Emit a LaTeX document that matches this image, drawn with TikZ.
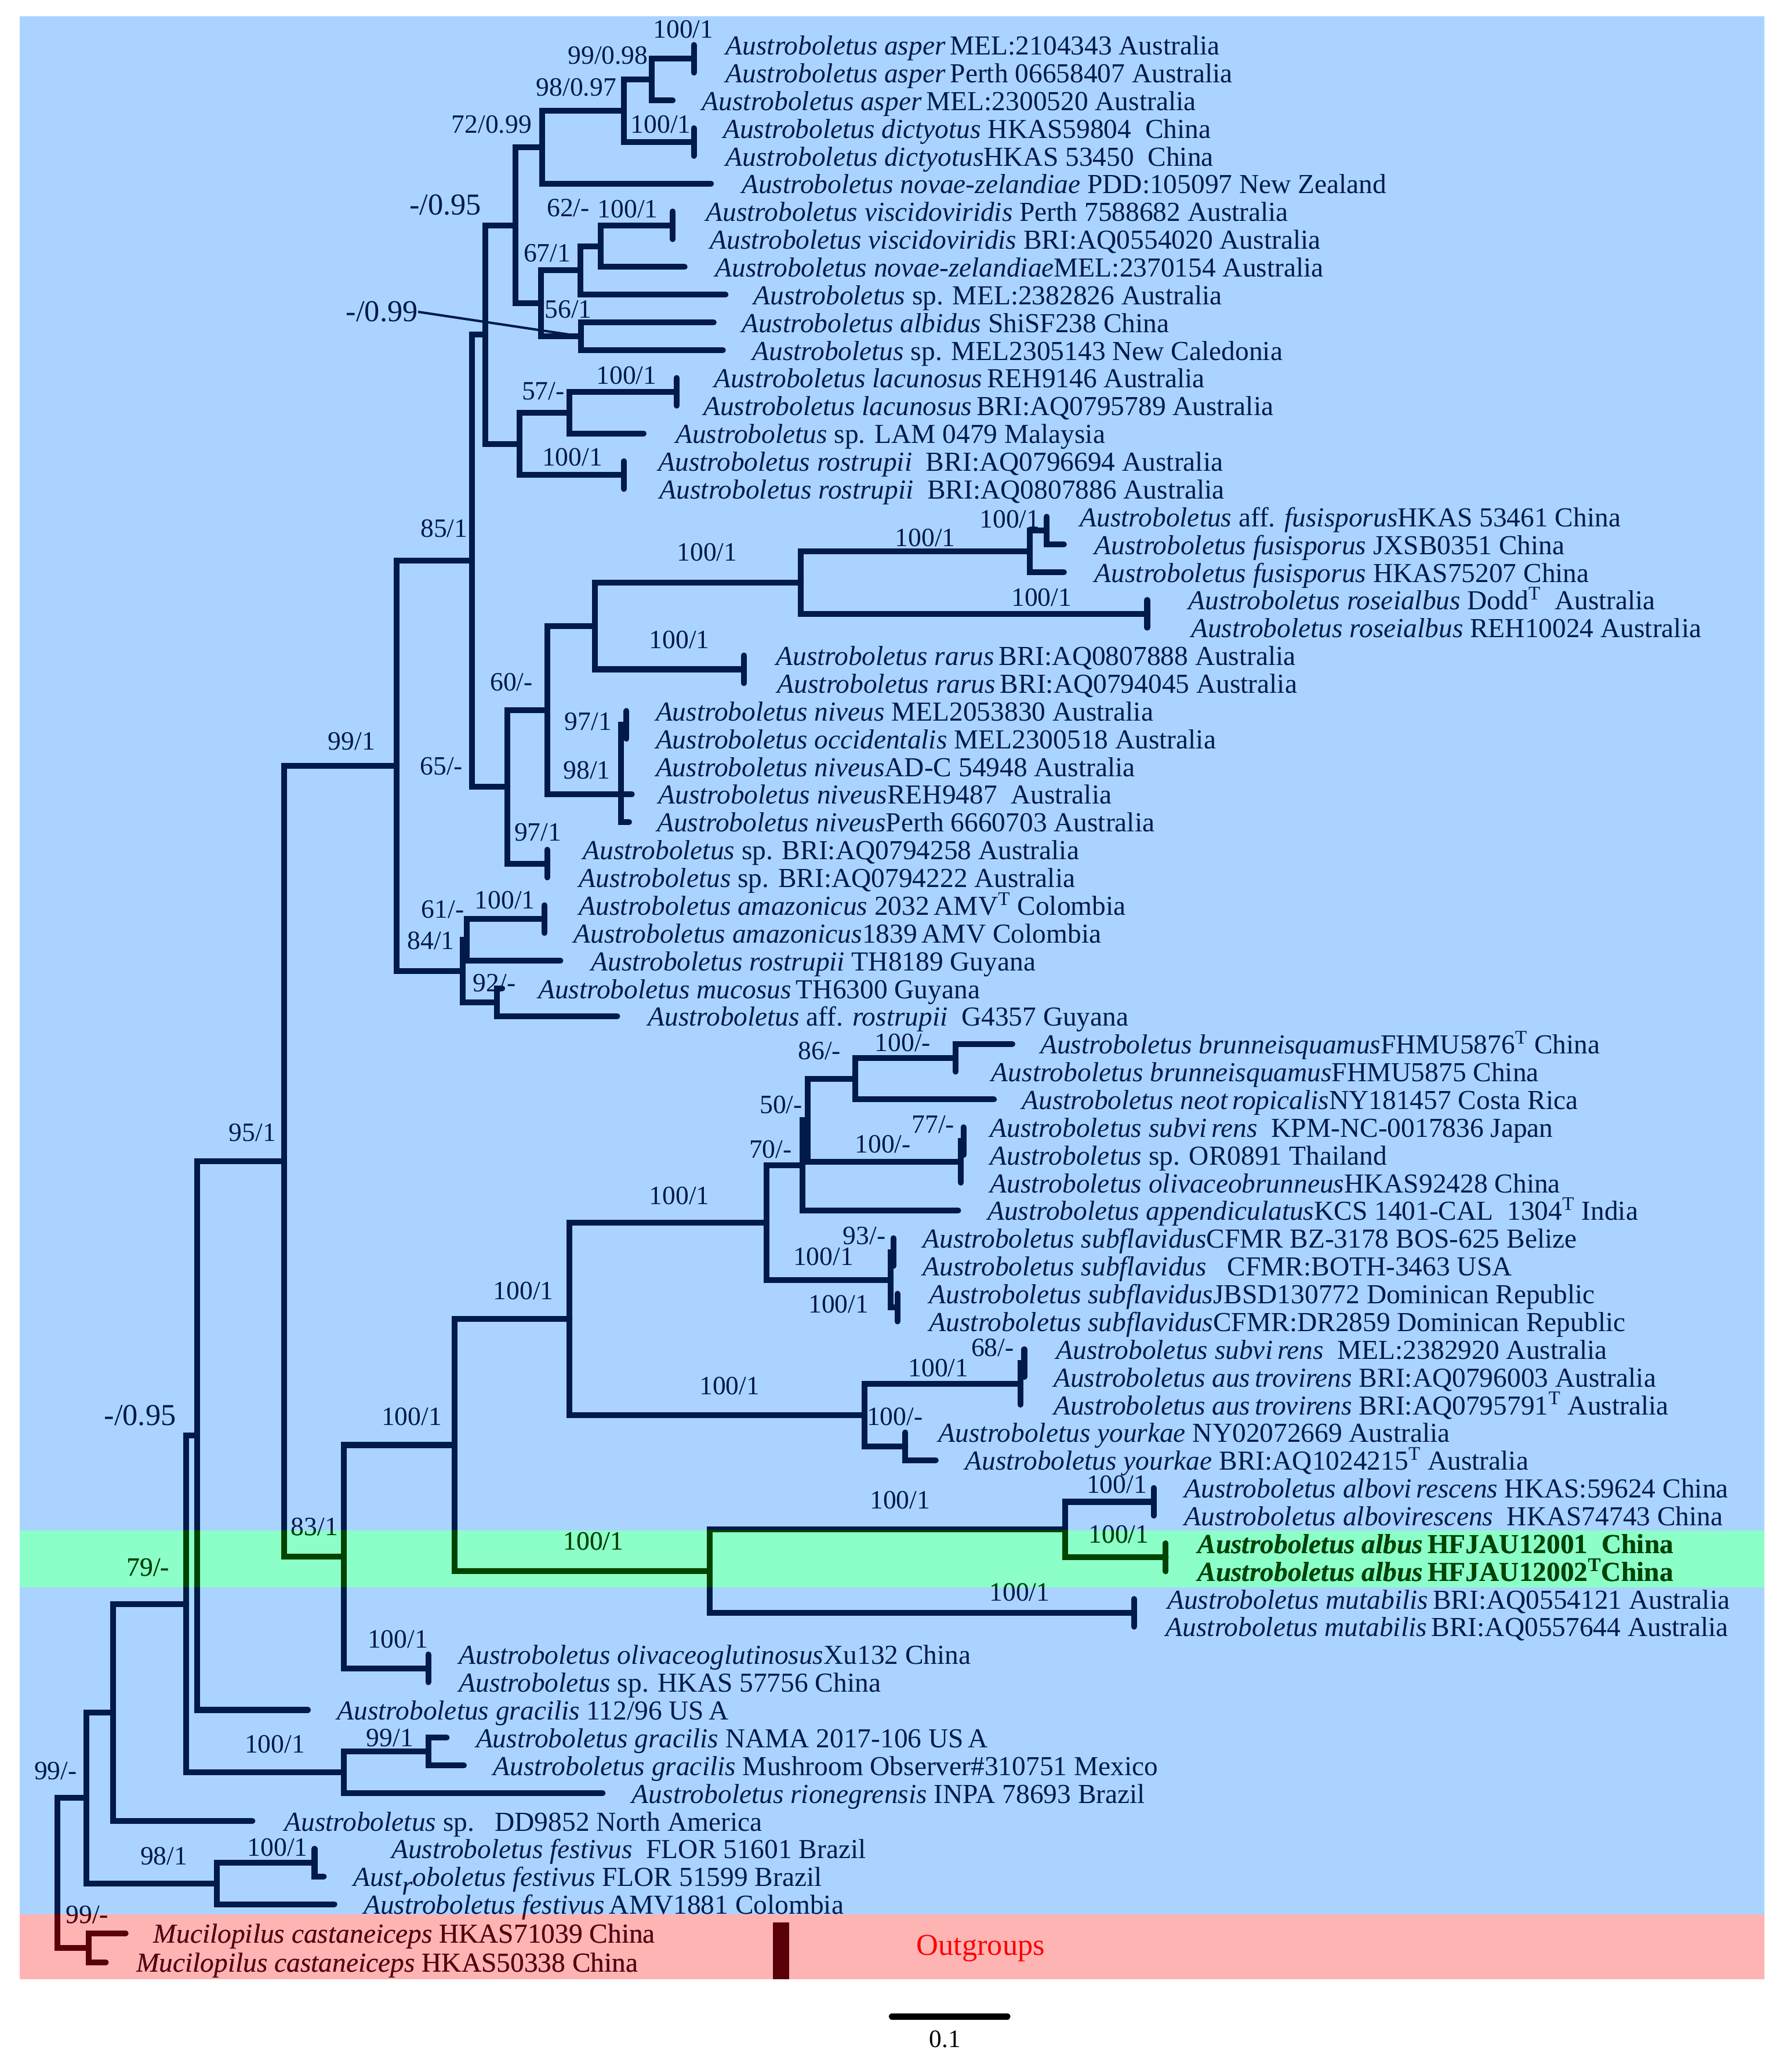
\documentclass[tikz,border=0pt]{standalone}
\usepackage{fontspec}
\setmainfont{Liberation Serif}
\usepackage{tikz}

\definecolor{fondbleu}{HTML}{AAD4FF}
\definecolor{fondvert}{HTML}{8CFFC8}
\definecolor{fondrose}{HTML}{FFB4B4}
\definecolor{traitbleu}{HTML}{001A4A}
\definecolor{traitvert}{HTML}{004400}
\definecolor{traitrouge}{HTML}{5A0008}
\colorlet{tc}{traitbleu}

% l'arbre complet (branches + textes), dessine avec la couleur tc
\newcommand{\arbre}{%
  % branches : parent/enfant
  \foreach \p/\c in {asp/l1, asp/l2, n9998/asp, n9998/l3, dic/l4, dic/l5,
      n9897/n9998, n9897/dic, n7299/n9897, n7299/l6, vis/l7, vis/l8,
      n62/vis, n62/l9, n67/n62, n67/l10, alb/l11, alb/l12, n56/n67, n56/alb,
      na/n7299, na/n56, lac/l13, lac/l14, n57/lac, n57/l15, ros/l16, ros/l17,
      nb/n57, nb/ros, n095/na, n095/nb,
      afu/l18, afu/l19, fus/afu, fus/l20, rse/l21, rse/l22, nc/fus, nc/rse,
      rar/l23, rar/l24, nd/nc, nd/rar, n97a/l25, n97a/l26, n98/n97a, n98/l27,
      niv/n98, niv/l28, niv/l29, n60/nd, n60/l28, n97b/l30, n97b/l31,
      n65/n60, n65/n97b, n85/n095, n85/n65, ama/l32, ama/l33, n61/ama, n61/l34,
      n92/l35, n92/l36, n84/n61, n84/n92, ne/n85, ne/n84,
      bru/l37, bru/l38, n86/bru, n86/l39, n77/l40, n77/l41, nsv/n77, nsv/l42,
      n50/n86, n50/nsv, n70/n50, n70/l43, n93/l44, n93/l45, sfb/l46, sfb/l47,
      sfl/n93, sfl/sfb, nf/n70, nf/sfl, n68/l48, n68/l49, aus/n68, aus/l50,
      you/l51, you/l52, ng/aus, ng/you, nh/nf, nh/ng,
      albo/l53, albo/l54, albu/l55, albu/l56, ni/albo, ni/albu, mut/l57, mut/l58,
      nj/ni, nj/mut, nk/nh, nk/nj, oli/l59, oli/l60, n83/nk, n83/oli,
      n99/ne, n99/n83, nm/n99, nm/l61, grp/l62, grp/l63, gra/grp, gra/l64,
      n79/nm, n79/gra, nn/n79, nn/l65, fes/l66, fes/l67, n98b/fes, n98b/l68,
      n99b/nn, n99b/n98b, out/l69, out/l70, root/n99b, root/out}
    \draw[br] (\p) |- (\c);
  % noms des specimens
  \node[leaf] (t1) at (549,41.5) {\textit{Austroboletus asper}\,MEL:2104343 Australia};
  \node[leaf] (t2) at (549,62.5) {\textit{Austroboletus asper}\,Perth 06658407 Australia};
  \node[leaf] (t3) at (531,83.5) {\textit{Austroboletus asper}\,MEL:2300520 Australia};
  \node[leaf] (t4) at (547,104.5) {\textit{Austroboletus dictyotus} HKAS59804\ \ China};
  \node[leaf] (t5) at (549,125.5) {\textit{Austroboletus dictyotus}HKAS 53450\ \ China};
  \node[leaf] (t6) at (561,146.5) {\textit{Austroboletus novae-zelandiae} PDD:105097 New Zealand};
  \node[leaf] (t7) at (534,167.5) {\textit{Austroboletus viscidoviridis} Perth 7588682 Australia};
  \node[leaf] (t8) at (537,188.5) {\textit{Austroboletus viscidoviridis} BRI:AQ0554020 Australia};
  \node[leaf] (t9) at (541,209.5) {\textit{Austroboletus novae-zelandiae}MEL:2370154 Australia};
  \node[leaf] (t10) at (570,230.5) {\textit{Austroboletus} sp. MEL:2382826 Australia};
  \node[leaf] (t11) at (561,251.5) {\textit{Austroboletus albidus} ShiSF238 China};
  \node[leaf] (t12) at (569,272.5) {\textit{Austroboletus} sp. MEL2305143 New Caledonia};
  \node[leaf] (t13) at (540,293.5) {\textit{Austroboletus lacunosus}\,REH9146 Australia};
  \node[leaf] (t14) at (532,314.5) {\textit{Austroboletus lacunosus}\,BRI:AQ0795789 Australia};
  \node[leaf] (t15) at (511,335.5) {\textit{Austroboletus} sp. LAM 0479 Malaysia};
  \node[leaf] (t16) at (498,356.5) {\textit{Austroboletus rostrupii}\ \ BRI:AQ0796694 Australia};
  \node[leaf] (t17) at (499,377.5) {\textit{Austroboletus rostrupii}\ \ BRI:AQ0807886 Australia};
  \node[leaf] (t18) at (817,398.5) {\textit{Austroboletus} aff. \textit{fusisporus}HKAS 53461 China};
  \node[leaf] (t19) at (828,419.5) {\textit{Austroboletus fusisporus} JXSB0351 China};
  \node[leaf] (t20) at (828,440.5) {\textit{Austroboletus fusisporus} HKAS75207 China};
  \node[leaf] (t21) at (899,461.5) {\textit{Austroboletus roseialbus} Dodd\textsuperscript{T}\ \ Australia};
  \node[leaf] (t22) at (901,482.5) {\textit{Austroboletus roseialbus} REH10024 Australia};
  \node[leaf] (t23) at (587,503.5) {\textit{Austroboletus rarus}\,BRI:AQ0807888 Australia};
  \node[leaf] (t24) at (588,524.5) {\textit{Austroboletus rarus}\,BRI:AQ0794045 Australia};
  \node[leaf] (t25) at (496,545.5) {\textit{Austroboletus niveus} MEL2053830 Australia};
  \node[leaf] (t26) at (496,566.5) {\textit{Austroboletus occidentalis} MEL2300518 Australia};
  \node[leaf] (t27) at (496,587.5) {\textit{Austroboletus niveus}AD-C 54948 Australia};
  \node[leaf] (t28) at (498,608.5) {\textit{Austroboletus niveus}REH9487\ \ Australia};
  \node[leaf] (t29) at (497,629.5) {\textit{Austroboletus niveus}Perth 6660703 Australia};
  \node[leaf] (t30) at (441,650.5) {\textit{Austroboletus} sp. BRI:AQ0794258 Australia};
  \node[leaf] (t31) at (438,671.5) {\textit{Austroboletus} sp. BRI:AQ0794222 Australia};
  \node[leaf] (t32) at (438,692.5) {\textit{Austroboletus amazonicus} 2032\,AMV\textsuperscript{T} Colombia};
  \node[leaf] (t33) at (434,713.5) {\textit{Austroboletus amazonicus}1839\,AMV Colombia};
  \node[leaf] (t34) at (447,734.5) {\textit{Austroboletus rostrupii} TH8189 Guyana};
  \node[leaf] (t35) at (407,755.5) {\textit{Austroboletus mucosus}\,TH6300 Guyana};
  \node[leaf] (t36) at (490,776.5) {\textit{Austroboletus} aff. \textit{rostrupii}\ \ G4357 Guyana};
  \node[leaf] (t37) at (787,797.5) {\textit{Austroboletus brunneisquamus}FHMU5876\textsuperscript{T} China};
  \node[leaf] (t38) at (750,818.5) {\textit{Austroboletus brunneisquamus}FHMU5875 China};
  \node[leaf] (t39) at (773,839.5) {\textit{Austroboletus neot\,ropicalis}NY181457 Costa Rica};
  \node[leaf] (t40) at (749,860.5) {\textit{Austroboletus subvi\,rens}\ \ KPM-NC-0017836 Japan};
  \node[leaf] (t41) at (749,881.5) {\textit{Austroboletus} sp. OR0891 Thailand};
  \node[leaf] (t42) at (749,902.5) {\textit{Austroboletus olivaceobrunneus}HKAS92428 China};
  \node[leaf] (t43) at (747,923.5) {\textit{Austroboletus appendiculatus}KCS 1401-CAL\ \ 1304\textsuperscript{T} India};
  \node[leaf] (t44) at (698,944.5) {\textit{Austroboletus subflavidus}CFMR BZ-3178 BOS-625 Belize};
  \node[leaf] (t45) at (698,965.5) {\textit{Austroboletus subflavidus}\ \ \ CFMR:BOTH-3463 USA};
  \node[leaf] (t46) at (703,986.5) {\textit{Austroboletus subflavidus}JBSD130772 Dominican Republic};
  \node[leaf] (t47) at (703,1007.5) {\textit{Austroboletus subflavidus}CFMR:DR2859 Dominican Republic};
  \node[leaf] (t48) at (799,1028.5) {\textit{Austroboletus subvi\,rens}\ \ MEL:2382920 Australia};
  \node[leaf] (t49) at (797,1049.5) {\textit{Austroboletus aus\,trovirens} BRI:AQ0796003 Australia};
  \node[leaf] (t50) at (797,1070.5) {\textit{Austroboletus aus\,trovirens} BRI:AQ0795791\textsuperscript{T} Australia};
  \node[leaf] (t51) at (710,1091.5) {\textit{Austroboletus yourkae} NY02072669 Australia};
  \node[leaf] (t52) at (730,1112.5) {\textit{Austroboletus yourkae} BRI:AQ1024215\textsuperscript{T} Australia};
  \node[leaf] (t53) at (896,1133.5) {\textit{Austroboletus albovi\,rescens} HKAS:59624 China};
  \node[leaf] (t54) at (896,1154.5) {\textit{Austroboletus albovirescens}\ \ HKAS74743 China};
  \node[leaf] (t55) at (906,1175.5) {\textbf{\textit{Austroboletus albus}\,HFJAU12001\ \ China}};
  \node[leaf] (t56) at (906,1196.5) {\textbf{\textit{Austroboletus albus}\,HFJAU12002\textsuperscript{T}China}};
  \node[leaf] (t57) at (883,1217.5) {\textit{Austroboletus mutabilis}\,BRI:AQ0554121 Australia};
  \node[leaf] (t58) at (882,1238.5) {\textit{Austroboletus mutabilis}\,BRI:AQ0557644 Australia};
  \node[leaf] (t59) at (347,1259.5) {\textit{Austroboletus olivaceoglutinosus}Xu132 China};
  \node[leaf] (t60) at (347,1280.5) {\textit{Austroboletus} sp. HKAS 57756 China};
  \node[leaf] (t61) at (255,1301.5) {\textit{Austroboletus gracilis} 112/96 US\,A};
  \node[leaf] (t62) at (360,1322.5) {\textit{Austroboletus gracilis} NAMA 2017-106 US\,A};
  \node[leaf] (t63) at (373,1343.5) {\textit{Austroboletus gracilis} Mushroom Observer\#310751 Mexico};
  \node[leaf] (t64) at (478,1364.5) {\textit{Austroboletus rionegrensis} INPA 78693 Brazil};
  \node[leaf] (t65) at (215,1385.5) {\textit{Austroboletus} sp.\ \ \ DD9852 North America};
  \node[leaf] (t66) at (296,1406.5) {\textit{Austroboletus festivus}\ \ FLOR 51601 Brazil};
  \node[leaf] (t67) at (267,1427.5) {\textit{Aust\raisebox{-.3em}{r}oboletus festivus} FLOR 51599 Brazil};
  \node[leaf] (t68) at (275,1448.5) {\textit{Austroboletus festivus}\,AMV1881 Colombia};
  \node[leaf] (t69) at (116,1470.5) {\textit{Mucilopilus castaneiceps} HKAS71039 China};
  \node[leaf] (t70) at (103,1492.5) {\textit{Mucilopilus castaneiceps} HKAS50338 China};
  % valeurs de soutien ML/BI
  \node[sup] (s1) at (517,22) {100/1};
  \node[sup] (s2) at (460,42) {99/0.98};
  \node[sup] (s3) at (436,66) {98/0.97};
  \node[sup] (s4) at (500,94) {100/1};
  \node[sup] (s5) at (372,94) {72/0.99};
  \node[sup, font=\fontsize{23}{24}\selectfont] (s6) at (337,155) {-/0.95};
  \node[sup] (s7) at (430,157.5) {62/-};
  \node[sup] (s8) at (475,158) {100/1};
  \node[sup] (s9) at (414,191.5) {67/1};
  \node[sup] (s10) at (430,234) {56/1};
  \node[sup, font=\fontsize{23}{24}\selectfont] (s11) at (289,236) {-/0.99};
  \node[sup] (s12) at (474,284) {100/1};
  \node[sup] (s13) at (411,296) {57/-};
  \node[sup] (s14) at (433,346) {100/1};
  \node[sup] (s15) at (336,400) {85/1};
  \node[sup] (s16) at (764,393) {100/1};
  \node[sup] (s17) at (700,407) {100/1};
  \node[sup] (s18) at (535,418) {100/1};
  \node[sup] (s19) at (788,452) {100/1};
  \node[sup] (s20) at (514,484) {100/1};
  \node[sup] (s21) at (387,516) {60/-};
  \node[sup] (s22) at (445,546) {97/1};
  \node[sup] (s23) at (444,583) {98/1};
  \node[sup] (s24) at (266,561) {99/1};
  \node[sup] (s25) at (334,580) {65/-};
  \node[sup] (s26) at (407,630) {97/1};
  \node[sup] (s27) at (335,688) {61/-};
  \node[sup] (s28) at (382,681) {100/1};
  \node[sup] (s29) at (326,712) {84/1};
  \node[sup] (s30) at (374,744) {92/-};
  \node[sup] (s31) at (620,795) {86/-};
  \node[sup] (s32) at (683,789) {100/-};
  \node[sup] (s33) at (591,836) {50/-};
  \node[sup] (s34) at (706,851) {77/-};
  \node[sup] (s35) at (583,870) {70/-};
  \node[sup] (s36) at (668,866) {100/-};
  \node[sup] (s37) at (514,905) {100/1};
  \node[sup] (s38) at (654,935) {93/-};
  \node[sup] (s39) at (623,951) {100/1};
  \node[sup] (s40) at (634.5,987) {100/1};
  \node[sup] (s41) at (396,977) {100/1};
  \node[sup] (s42) at (751,1020) {68/-};
  \node[sup] (s43) at (710,1035) {100/1};
  \node[sup] (s44) at (552,1049) {100/1};
  \node[sup] (s45) at (677,1072) {100/-};
  \node[sup] (s46) at (311.5,1072) {100/1};
  \node[sup] (s47) at (845,1123.5) {100/1};
  \node[sup] (s48) at (681,1135) {100/1};
  \node[sup] (s49) at (846.5,1161) {100/1};
  \node[sup] (s50) at (771.5,1205) {100/1};
  \node[sup] (s51) at (449,1166.5) {100/1};
  \node[sup] (s52) at (238,1155.5) {83/1};
  \node[sup] (s53) at (191,857) {95/1};
  \node[sup, font=\fontsize{23}{24}\selectfont] (s54) at (106,1071) {-/0.95};
  \node[sup] (s55) at (112,1186) {79/-};
  \node[sup] (s56) at (301,1240.5) {100/1};
  \node[sup] (s57) at (208,1320) {100/1};
  \node[sup] (s58) at (295,1315) {99/1};
  \node[sup] (s59) at (42,1340) {99/-};
  \node[sup] (s60) at (210,1398) {100/1};
  \node[sup] (s61) at (124,1404.5) {98/1};
  \node[sup] (s62) at (66,1449) {99/-};
  % renvoi vers le noeud -/0.99
  \draw[tc, line width=1.8pt] (s11.east) -- (alb);
}

\begin{document}
\begin{tikzpicture}[x=1pt, y=-1pt,
    br/.style={draw=tc, line width=4.4pt, line cap=round},
    leaf/.style={anchor=base west, inner sep=0pt, text=tc, font=\fontsize{20.8}{22}\selectfont},
    sup/.style={inner sep=0pt, text=tc, font=\fontsize{20}{21}\selectfont}]
  \useasboundingbox (0,0) rectangle (1349,1568);
  \fill[white] (0,0) rectangle (1349,1568);

  % fonds colores
  \fill[fondbleu] (15,12.5) rectangle (1335,1448.5);
  \fill[fondvert] (15,1158) rectangle (1335,1201);
  \fill[fondrose] (15,1448.5) rectangle (1335,1498);

  % extremites des branches (feuilles)
  \foreach \n/\x/\y in {1/525/34, 2/525/55, 3/509/76, 4/525/97, 5/525/118,
      6/538/139, 7/509/160, 8/509/181, 9/518/202, 10/549/223, 11/540/244,
      12/547/265, 13/512/286, 14/512/307, 15/487/328, 16/472/349, 17/472/370,
      18/792/391, 19/805/412, 20/805/433, 21/868/454, 22/868/475, 23/563/496,
      24/563/517, 25/474/538, 26/474/559, 27/470/580, 28/478/601, 29/476/622,
      30/414/643, 31/414/664, 32/412/685, 33/412/706, 34/424/727, 35/380/748,
      36/467/769, 37/766/790, 38/723/811, 39/752/832, 40/729/853, 41/729/874,
      42/727/895, 43/725/916, 44/676/937, 45/676/958, 46/679/979, 47/679/1000,
      48/775/1021, 49/775/1042, 50/772/1063, 51/685/1084, 52/708/1105,
      53/873/1126, 54/873/1147, 55/882/1168, 56/882/1189, 57/858/1210,
      58/858/1231, 59/324/1252, 60/324/1273, 61/233/1294, 62/338/1315,
      63/351/1336, 64/456/1357, 65/191/1378, 66/238/1399, 67/245/1420,
      68/253/1441, 69/95/1463, 70/80/1485}
    \coordinate (l\n) at (\x,\y);

  % noeuds internes
  \foreach \n/\x/\y in {asp/525/44.5, n9998/493/60.25, dic/525/107.5,
      n9897/472/83.9, n7299/410/111.4, vis/509/170.5, n62/454.5/186.25,
      n67/439/204.6, alb/439.5/254.5, n56/409.5/229.6, na/390/170.5,
      lac/512/296.5, n57/431/312.25, ros/472/359.5, nb/393/335.9,
      n095/367/253.2, afu/792/401.5, fus/779/417.25, rse/868/464.5,
      nc/606/440.9, rar/563/506.5, nd/450/473.7, n97a/474/548.5,
      n98/470/564.25, niv/470/593, n60/414/537.4, n97b/414/653.5,
      n65/384/595.4, n85/357/424.3, ama/412/695.5, n61/353/711.25,
      n92/376/758.5, n84/350/734.9, ne/300/579.6, bru/723/800.5,
      n86/647/816.25, n77/729/863.5, nsv/727/879.25, n50/611/847.75,
      n70/607/881.9, n93/676/947.5, sfb/679/989.5, sfl/674/968.5,
      nf/580/925.2, n68/775/1031.5, aus/772/1047.25, you/685/1094.5,
      ng/654/1070.9, nh/431/998, albo/873/1136.5, albu/882/1178.5,
      ni/806/1157.5, mut/858/1220.5, nj/537/1189, nk/344/1093.5,
      oli/324/1262.5, n83/260/1178, n99/215/878.8, nm/149/1086.4,
      grp/324/1325.5, gra/260/1341.25, n79/141/1213.8, nn/85.5/1295.9,
      fes/238/1409.5, n98b/164/1425.25, n99b/65.5/1360.6, out/67/1474,
      root/43.6/1417.3}
    \coordinate (\n) at (\x,\y);

  % arbre en bleu fonce
  \arbre

  % partie dans la bande verte
  \begin{scope}
    \clip (15,1158) rectangle (1335,1201);
    \colorlet{tc}{traitvert}
    \arbre
  \end{scope}

  % partie dans la bande rose (groupe externe)
  \begin{scope}
    \clip (15,1448.5) rectangle (1335,1498);
    \colorlet{tc}{traitrouge}
    \arbre
  \end{scope}

  % groupe externe
  \fill[traitrouge] (585,1455) rectangle (597,1498);
  \node[text=red, inner sep=0pt, font=\fontsize{23}{24}\selectfont] (outg) at (742,1474.5) {Outgroups};

  % echelle
  \coordinate (e1) at (675,1526);
  \coordinate (e2) at (762,1526);
  \draw[line width=5pt, line cap=round] (e1) -- (e2);
  \node[inner sep=0pt, font=\fontsize{19}{20}\selectfont] (ech) at (715,1543) {0.1};
\end{tikzpicture}
\end{document}
